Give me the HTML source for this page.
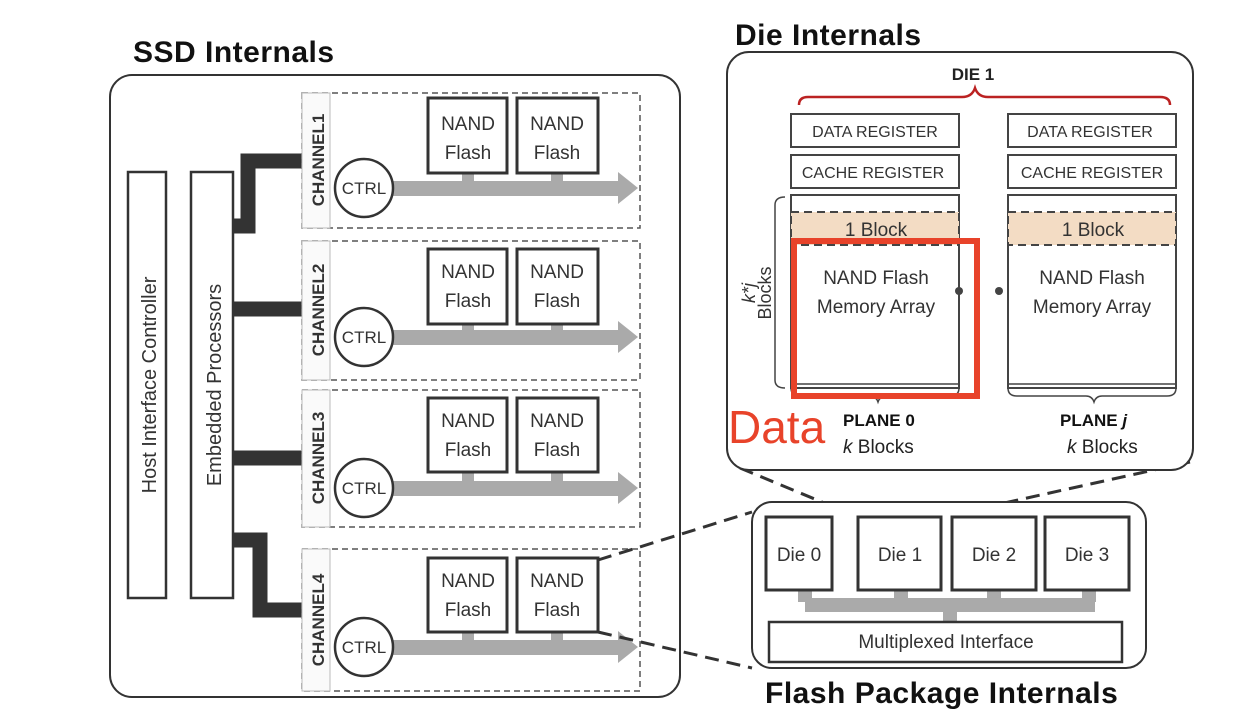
<!DOCTYPE html>
<html><head><meta charset="utf-8"><style>
body{margin:0;background:#fff;}
svg{display:block;font-family:"Liberation Sans",sans-serif;}
</style></head><body>
<svg width="1242" height="722" viewBox="0 0 1242 722" xmlns="http://www.w3.org/2000/svg">
<text x="133" y="62" font-size="30" font-weight="bold" fill="#111" letter-spacing="0.5">SSD Internals</text>
<rect x="110" y="75" width="570" height="622" rx="22" fill="none" stroke="#333" stroke-width="2"/>
<rect x="128" y="172" width="38" height="426" fill="#fff" stroke="#333" stroke-width="2.5"/>
<text transform="translate(156,385) rotate(-90)" font-size="20" text-anchor="middle" fill="#333">Host Interface Controller</text>
<rect x="191" y="172" width="42" height="426" fill="#fff" stroke="#333" stroke-width="2.5"/>
<text transform="translate(221,385) rotate(-90)" font-size="20" text-anchor="middle" fill="#333">Embedded Processors</text>
<g fill="none" stroke="#333" stroke-width="15">
<polyline points="233,226 248,226 248,161 302,161"/>
<line x1="233" y1="309" x2="302" y2="309"/>
<line x1="233" y1="458" x2="302" y2="458"/>
<polyline points="233,540 260,540 260,610 302,610"/>
</g>
<g font-size="19" fill="#333">
<rect x="302" y="93" width="338" height="135" fill="none" stroke="#555" stroke-width="1.5" stroke-dasharray="6,4"/>
<rect x="302" y="93" width="28" height="135" fill="#fafafa" stroke="#bbb"/>
<text transform="translate(324,160) rotate(-90)" font-size="17" font-weight="bold" text-anchor="middle">CHANNEL1</text>
<rect x="462" y="170" width="12" height="14" fill="#aaa"/><rect x="551" y="170" width="12" height="14" fill="#aaa"/>
<rect x="390" y="181" width="230" height="15" fill="#aaa"/><polygon points="618,172 638,188 618,204" fill="#aaa"/>
<circle cx="364" cy="188" r="29" fill="#fff" stroke="#333" stroke-width="2.5"/><text x="364" y="194" text-anchor="middle" font-size="17">CTRL</text>
<rect x="428" y="98" width="79" height="75" fill="#fff" stroke="#333" stroke-width="3"/><rect x="517" y="98" width="81" height="75" fill="#fff" stroke="#333" stroke-width="3"/>
<text x="468" y="130" text-anchor="middle">NAND</text><text x="468" y="159" text-anchor="middle">Flash</text>
<text x="557" y="130" text-anchor="middle">NAND</text><text x="557" y="159" text-anchor="middle">Flash</text>
<rect x="302" y="241" width="338" height="139" fill="none" stroke="#555" stroke-width="1.5" stroke-dasharray="6,4"/>
<rect x="302" y="241" width="28" height="139" fill="#fafafa" stroke="#bbb"/>
<text transform="translate(324,310) rotate(-90)" font-size="17" font-weight="bold" text-anchor="middle">CHANNEL2</text>
<rect x="462" y="320" width="12" height="14" fill="#aaa"/><rect x="551" y="320" width="12" height="14" fill="#aaa"/>
<rect x="390" y="330" width="230" height="15" fill="#aaa"/><polygon points="618,321 638,337 618,353" fill="#aaa"/>
<circle cx="364" cy="337" r="29" fill="#fff" stroke="#333" stroke-width="2.5"/><text x="364" y="343" text-anchor="middle" font-size="17">CTRL</text>
<rect x="428" y="249" width="79" height="75" fill="#fff" stroke="#333" stroke-width="3"/><rect x="517" y="249" width="81" height="75" fill="#fff" stroke="#333" stroke-width="3"/>
<text x="468" y="278" text-anchor="middle">NAND</text><text x="468" y="307" text-anchor="middle">Flash</text>
<text x="557" y="278" text-anchor="middle">NAND</text><text x="557" y="307" text-anchor="middle">Flash</text>
<rect x="302" y="390" width="338" height="137" fill="none" stroke="#555" stroke-width="1.5" stroke-dasharray="6,4"/>
<rect x="302" y="390" width="28" height="137" fill="#fafafa" stroke="#bbb"/>
<text transform="translate(324,458) rotate(-90)" font-size="17" font-weight="bold" text-anchor="middle">CHANNEL3</text>
<rect x="462" y="470" width="12" height="14" fill="#aaa"/><rect x="551" y="470" width="12" height="14" fill="#aaa"/>
<rect x="390" y="481" width="230" height="15" fill="#aaa"/><polygon points="618,472 638,488 618,504" fill="#aaa"/>
<circle cx="364" cy="488" r="29" fill="#fff" stroke="#333" stroke-width="2.5"/><text x="364" y="494" text-anchor="middle" font-size="17">CTRL</text>
<rect x="428" y="398" width="79" height="74" fill="#fff" stroke="#333" stroke-width="3"/><rect x="517" y="398" width="81" height="74" fill="#fff" stroke="#333" stroke-width="3"/>
<text x="468" y="427" text-anchor="middle">NAND</text><text x="468" y="456" text-anchor="middle">Flash</text>
<text x="557" y="427" text-anchor="middle">NAND</text><text x="557" y="456" text-anchor="middle">Flash</text>
<rect x="302" y="549" width="338" height="142" fill="none" stroke="#555" stroke-width="1.5" stroke-dasharray="6,4"/>
<rect x="302" y="549" width="28" height="142" fill="#fafafa" stroke="#bbb"/>
<text transform="translate(324,620) rotate(-90)" font-size="17" font-weight="bold" text-anchor="middle">CHANNEL4</text>
<rect x="462" y="630" width="12" height="14" fill="#aaa"/><rect x="551" y="630" width="12" height="14" fill="#aaa"/>
<rect x="390" y="640" width="230" height="15" fill="#aaa"/><polygon points="618,631 638,647 618,663" fill="#aaa"/>
<circle cx="364" cy="647" r="29" fill="#fff" stroke="#333" stroke-width="2.5"/><text x="364" y="653" text-anchor="middle" font-size="17">CTRL</text>
<rect x="428" y="558" width="79" height="74" fill="#fff" stroke="#333" stroke-width="3"/><rect x="517" y="558" width="81" height="74" fill="#fff" stroke="#333" stroke-width="3"/>
<text x="468" y="587" text-anchor="middle">NAND</text><text x="468" y="616" text-anchor="middle">Flash</text>
<text x="557" y="587" text-anchor="middle">NAND</text><text x="557" y="616" text-anchor="middle">Flash</text>
</g>
<g stroke="#333" stroke-width="3" stroke-dasharray="14,8" fill="none">
<line x1="598" y1="560" x2="752" y2="512"/>
<line x1="598" y1="632" x2="752" y2="668"/>
<line x1="740" y1="468" x2="858" y2="517"/>
<line x1="1190" y1="462" x2="941" y2="517"/>
</g>
<text x="735" y="45" font-size="30" font-weight="bold" fill="#111" letter-spacing="0.5">Die Internals</text>
<rect x="727" y="52" width="466" height="418" rx="22" fill="#fff" stroke="#333" stroke-width="2"/>
<text x="973" y="80" font-size="17" font-weight="bold" text-anchor="middle" fill="#222">DIE 1</text>
<path d="M799,105 Q799,97 808,97 L962,97 Q972,97 975,88 Q978,97 988,97 L1160,97 Q1170,97 1170,105" fill="none" stroke="#b22" stroke-width="2.5"/>
<g font-size="16" fill="#333" text-anchor="middle">
<rect x="791" y="114" width="168" height="33" fill="#fff" stroke="#444" stroke-width="2"/><text x="875" y="137">DATA REGISTER</text>
<rect x="1008" y="114" width="168" height="33" fill="#fff" stroke="#444" stroke-width="2"/><text x="1090" y="137">DATA REGISTER</text>
<rect x="791" y="155" width="168" height="33" fill="#fff" stroke="#444" stroke-width="2"/><text x="873" y="178">CACHE REGISTER</text>
<rect x="1008" y="155" width="168" height="33" fill="#fff" stroke="#444" stroke-width="2"/><text x="1092" y="178">CACHE REGISTER</text>
<rect x="791" y="195" width="168" height="193" fill="#fff" stroke="#444" stroke-width="2"/>
<rect x="1008" y="195" width="168" height="193" fill="#fff" stroke="#444" stroke-width="2"/>
<line x1="791" y1="384" x2="959" y2="384" stroke="#444" stroke-width="1.5"/>
<line x1="1008" y1="384" x2="1176" y2="384" stroke="#444" stroke-width="1.5"/>
<rect x="791" y="212" width="168" height="33" fill="#f3dcc4" stroke="#444" stroke-width="2" stroke-dasharray="8,5"/>
<rect x="1008" y="212" width="168" height="33" fill="#f3dcc4" stroke="#444" stroke-width="2" stroke-dasharray="8,5"/>
<text x="876" y="236" font-size="19">1 Block</text><text x="1093" y="236" font-size="19">1 Block</text>
<text x="876" y="284" font-size="19">NAND Flash</text><text x="876" y="313" font-size="19">Memory Array</text>
<text x="1092" y="284" font-size="19">NAND Flash</text><text x="1092" y="313" font-size="19">Memory Array</text>
</g>
<circle cx="959" cy="291" r="4" fill="#444"/><circle cx="999" cy="291" r="4" fill="#444"/>
<path d="M785,197 Q775,197 775,205 L775,380 Q775,388 785,388" fill="none" stroke="#444" stroke-width="1.5"/>
<text transform="translate(755,293) rotate(-90)" font-size="18" text-anchor="middle" fill="#333" font-style="italic">k*j</text>
<text transform="translate(771,293) rotate(-90)" font-size="18" text-anchor="middle" fill="#333">Blocks</text>
<path d="M791,388 Q791,396 800,396 L870,396 Q876,396 878,402 Q880,396 886,396 L950,396 Q959,396 959,388" fill="none" stroke="#444" stroke-width="1.5"/>
<path d="M1008,388 Q1008,396 1017,396 L1086,396 Q1092,396 1094,402 Q1096,396 1102,396 L1167,396 Q1176,396 1176,388" fill="none" stroke="#444" stroke-width="1.5"/>
<rect x="794" y="241" width="183" height="155" fill="none" stroke="#e8432a" stroke-width="6"/>
<text x="728" y="443" font-size="46" fill="#e8432a">Data</text>
<text x="843" y="426" font-size="17" font-weight="bold" fill="#111">PLANE 0</text>
<text x="843" y="453" font-size="19" fill="#222"><tspan font-style="italic">k</tspan> Blocks</text>
<text x="1060" y="426" font-size="17" font-weight="bold" fill="#111">PLANE <tspan font-style="italic">j</tspan></text>
<text x="1067" y="453" font-size="19" fill="#222"><tspan font-style="italic">k</tspan> Blocks</text>
<rect x="752" y="502" width="394" height="166" rx="20" fill="#fff" stroke="#333" stroke-width="2"/>
<rect x="805" y="598" width="290" height="14" fill="#aaa"/>
<rect x="798" y="588" width="14" height="14" fill="#aaa"/><rect x="894" y="588" width="14" height="14" fill="#aaa"/>
<rect x="987" y="588" width="14" height="14" fill="#aaa"/><rect x="1082" y="588" width="14" height="14" fill="#aaa"/>
<rect x="943" y="610" width="14" height="14" fill="#aaa"/>
<g font-size="19" fill="#333" text-anchor="middle">
<rect x="766" y="517" width="66" height="73" fill="#fff" stroke="#333" stroke-width="3"/><text x="799" y="561">Die 0</text>
<rect x="858" y="517" width="83" height="73" fill="#fff" stroke="#333" stroke-width="3"/><text x="900" y="561">Die 1</text>
<rect x="952" y="517" width="84" height="73" fill="#fff" stroke="#333" stroke-width="3"/><text x="994" y="561">Die 2</text>
<rect x="1045" y="517" width="84" height="73" fill="#fff" stroke="#333" stroke-width="3"/><text x="1087" y="561">Die 3</text>
<rect x="769" y="622" width="353" height="40" fill="#fff" stroke="#333" stroke-width="2.5"/><text x="946" y="648">Multiplexed Interface</text>
</g>
<text x="765" y="703" font-size="30" font-weight="bold" fill="#111" letter-spacing="0.5">Flash Package Internals</text>
</svg>
</body></html>
